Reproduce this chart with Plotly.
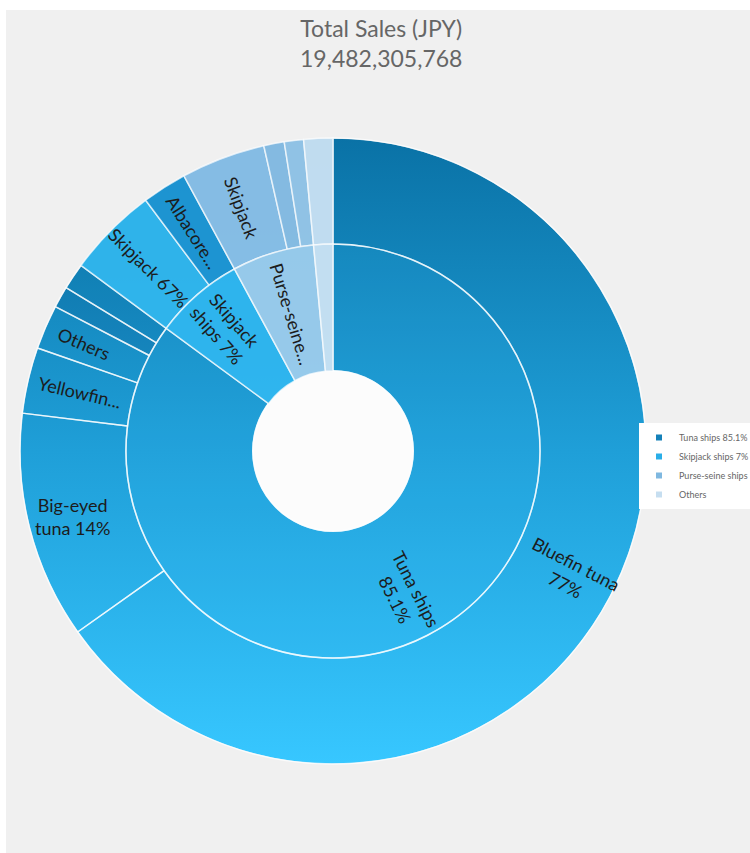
import base64
import math
import plotly.graph_objects as go

# ---------------- data ----------------
title_text = "Total Sales (JPY)"
total_sales = 19482305768

groups = ["Tuna ships", "Skipjack ships", "Purse-seine ships", "Others"]
group_share = [85.1, 7.0, 6.4, 1.5]            # % of total sales
group_text = ["Tuna ships<br>85.1%", "Skipjack<br>ships 7%", "Purse-seine...", ""]
legend_labels = ["Tuna ships 85.1%", "Skipjack ships 7%", "Purse-seine ships", "Others"]

tuna_species = ["Bluefin tuna", "Big-eyed tuna", "Yellowfin tuna", "Others (tuna ships)", "Minor A", "Minor B"]
tuna_share = [76.6, 13.8, 4.0, 2.7, 1.3, 1.6]   # % of parent
tuna_text = ["Bluefin tuna<br>77%", "Big-eyed<br>tuna 14%", "Yellowfin...", "Others", "", ""]

skipjack_species = ["Skipjack", "Albacore tuna"]
skipjack_share = [67.0, 33.0]
skipjack_text = ["Skipjack 67%", "Albacore..."]

purse_species = ["Skipjack (purse-seine)", "Minor C", "Minor D"]
purse_share = [68.0, 16.5, 15.5]
purse_text = ["Skipjack", "", ""]

others_species = ["Others (other ships)"]
others_share = [100.0]
others_text = [""]

# ---------------- styles ----------------
inner_colors = ["rgba(60,190,245,0.12)", "rgba(48,183,240,0.93)",
                "rgba(157,204,236,0.95)", "rgba(200,225,243,0.97)"]
legend_colors = ["#1581b9", "#2aaee8", "#7fb8e0", "#c6def0"]
outer_colors = [
    "rgba(0,0,0,0)", "rgba(0,0,0,0)", "rgba(0,0,0,0)", "rgba(0,0,0,0)",
    "rgba(0,50,110,0.12)", "rgba(0,50,110,0.06)",
    "rgba(50,183,238,0.93)", "rgba(30,150,212,0.92)",
    "rgba(140,192,231,0.95)", "rgba(139,190,228,0.95)", "rgba(152,198,232,0.95)",
    "rgba(198,223,242,0.97)",
]

W, H = 750, 853
CX, CY = 333, 451
R_OUT, R_MID, R_HOLE = 313, 207, 80
FONT = "Lato, 'Open Sans', sans-serif"
TXT_COLOR = "#1c1c1c"
TXT_SIZE = 18

outer_labels = tuna_species + skipjack_species + purse_species + others_species
outer_text = tuna_text + skipjack_text + purse_text + others_text
outer_values = ([group_share[0] * s / 100 for s in tuna_share]
                + [group_share[1] * s / 100 for s in skipjack_share]
                + [group_share[2] * s / 100 for s in purse_share]
                + [group_share[3] * s / 100 for s in others_share])


def dom(r):
    return dict(x=[(CX - r) / W, (CX + r) / W],
                y=[1 - (CY + r) / H, 1 - (CY - r) / H])


def split_labels(values, texts, r_in, r_out, rfrac=0.5):
    """Plotly moves radial text of slices crossing 3 or 9 o'clock onto that
    axis; such labels are placed as radial annotations at the slice middle."""
    total = sum(values)
    kept, notes = [], []
    a0 = 0.0
    for v, t in zip(values, texts):
        a1 = a0 + v / total * 360
        crosses = (a0 < 90 < a1) or (a0 < 270 < a1)
        if crosses and t:
            mid = (a0 + a1) / 2
            r = r_in + (r_out - r_in) * rfrac
            px = CX + r * math.sin(math.radians(mid))
            py = CY - r * math.cos(math.radians(mid))
            ang = mid - 90
            if ang > 90:
                ang -= 180
            if abs(ang) < 20:       # nearly horizontal labels are kept level
                ang = 0
            notes.append(dict(text=t, x=px / W, y=1 - py / H, xref="paper", yref="paper",
                              xanchor="center", yanchor="middle", showarrow=False,
                              textangle=ang,
                              font=dict(family=FONT, size=TXT_SIZE, color=TXT_COLOR)))
            kept.append("")
        else:
            kept.append(t)
        a0 = a1
    return kept, notes


outer_text_pie, outer_notes = split_labels(outer_values, outer_text, R_MID, R_OUT, 0.58)
inner_text_pie, inner_notes = split_labels(group_share, group_text, R_HOLE, R_MID, 0.64)

# background + gradient underlay (style only), visible through translucent slices
svg = f'''<svg xmlns="http://www.w3.org/2000/svg" width="{W}" height="{H}" viewBox="0 0 {W} {H}" preserveAspectRatio="none">
<defs><linearGradient id="g" x1="0" y1="0" x2="0" y2="1">
<stop offset="0" stop-color="#0a72a6"/><stop offset="0.5" stop-color="#1f9fd8"/><stop offset="1" stop-color="#37c7ff"/>
</linearGradient></defs>
<rect x="0" y="0" width="{W}" height="{H}" fill="#ffffff"/>
<rect x="6" y="10" width="{W-6}" height="{H-10}" fill="#f0f0f0"/>
<circle cx="{CX}" cy="{CY}" r="{R_OUT-0.5}" fill="url(#g)"/>
<circle cx="{CX}" cy="{CY}" r="{R_HOLE+1}" fill="#fcfcfc"/>
</svg>'''
svg_uri = "data:image/svg+xml;base64," + base64.b64encode(svg.encode()).decode()

line_style = dict(color="rgba(255,255,255,0.7)", width=1.5)

fig = go.Figure()

fig.add_trace(go.Pie(
    labels=outer_labels, values=outer_values, text=outer_text_pie,
    textinfo="text", textposition="inside", insidetextorientation="radial",
    sort=False, direction="clockwise", rotation=0,
    hole=R_MID / R_OUT, domain=dom(R_OUT),
    marker=dict(colors=outer_colors, line=line_style),
    insidetextfont=dict(family=FONT, size=TXT_SIZE, color=TXT_COLOR),
    showlegend=False, hoverinfo="label+percent",
))

fig.add_trace(go.Pie(
    labels=groups, values=group_share, text=inner_text_pie,
    textinfo="text", textposition="inside", insidetextorientation="radial",
    sort=False, direction="clockwise", rotation=0,
    hole=R_HOLE / R_MID, domain=dom(R_MID),
    marker=dict(colors=inner_colors, line=line_style),
    insidetextfont=dict(family=FONT, size=TXT_SIZE, color=TXT_COLOR),
    showlegend=False, hoverinfo="label+percent",
))

for name, col in zip(legend_labels, legend_colors):
    fig.add_trace(go.Scatter(x=[None], y=[None], mode="markers", name=name,
                             marker=dict(symbol="square", size=6, color=col),
                             showlegend=True, hoverinfo="skip"))

title_note = dict(text=f"{title_text}<br>{total_sales:,}",
                  xref="paper", yref="paper", x=381 / W, y=1 - 43 / H,
                  xanchor="center", yanchor="middle", showarrow=False,
                  font=dict(family=FONT, size=23, color="#666666"))

fig.update_layout(
    width=W, height=H,
    margin=dict(l=0, r=0, t=0, b=0, autoexpand=False),
    paper_bgcolor="#f0f0f0", plot_bgcolor="rgba(0,0,0,0)",
    xaxis=dict(visible=False), yaxis=dict(visible=False),
    uniformtext=dict(minsize=TXT_SIZE, mode="show"),
    images=[dict(source=svg_uri, xref="paper", yref="paper",
                 x=0, y=1, sizex=1, sizey=1,
                 xanchor="left", yanchor="top", sizing="stretch", layer="below")],
    annotations=[title_note] + outer_notes + inner_notes,
    legend=dict(x=639 / W, y=1 - 423 / H, xanchor="left", yanchor="top",
                bgcolor="white", font=dict(family=FONT, size=9, color="#666666"),
                itemwidth=30, tracegroupgap=0),
)

fig.write_html("out.html")
